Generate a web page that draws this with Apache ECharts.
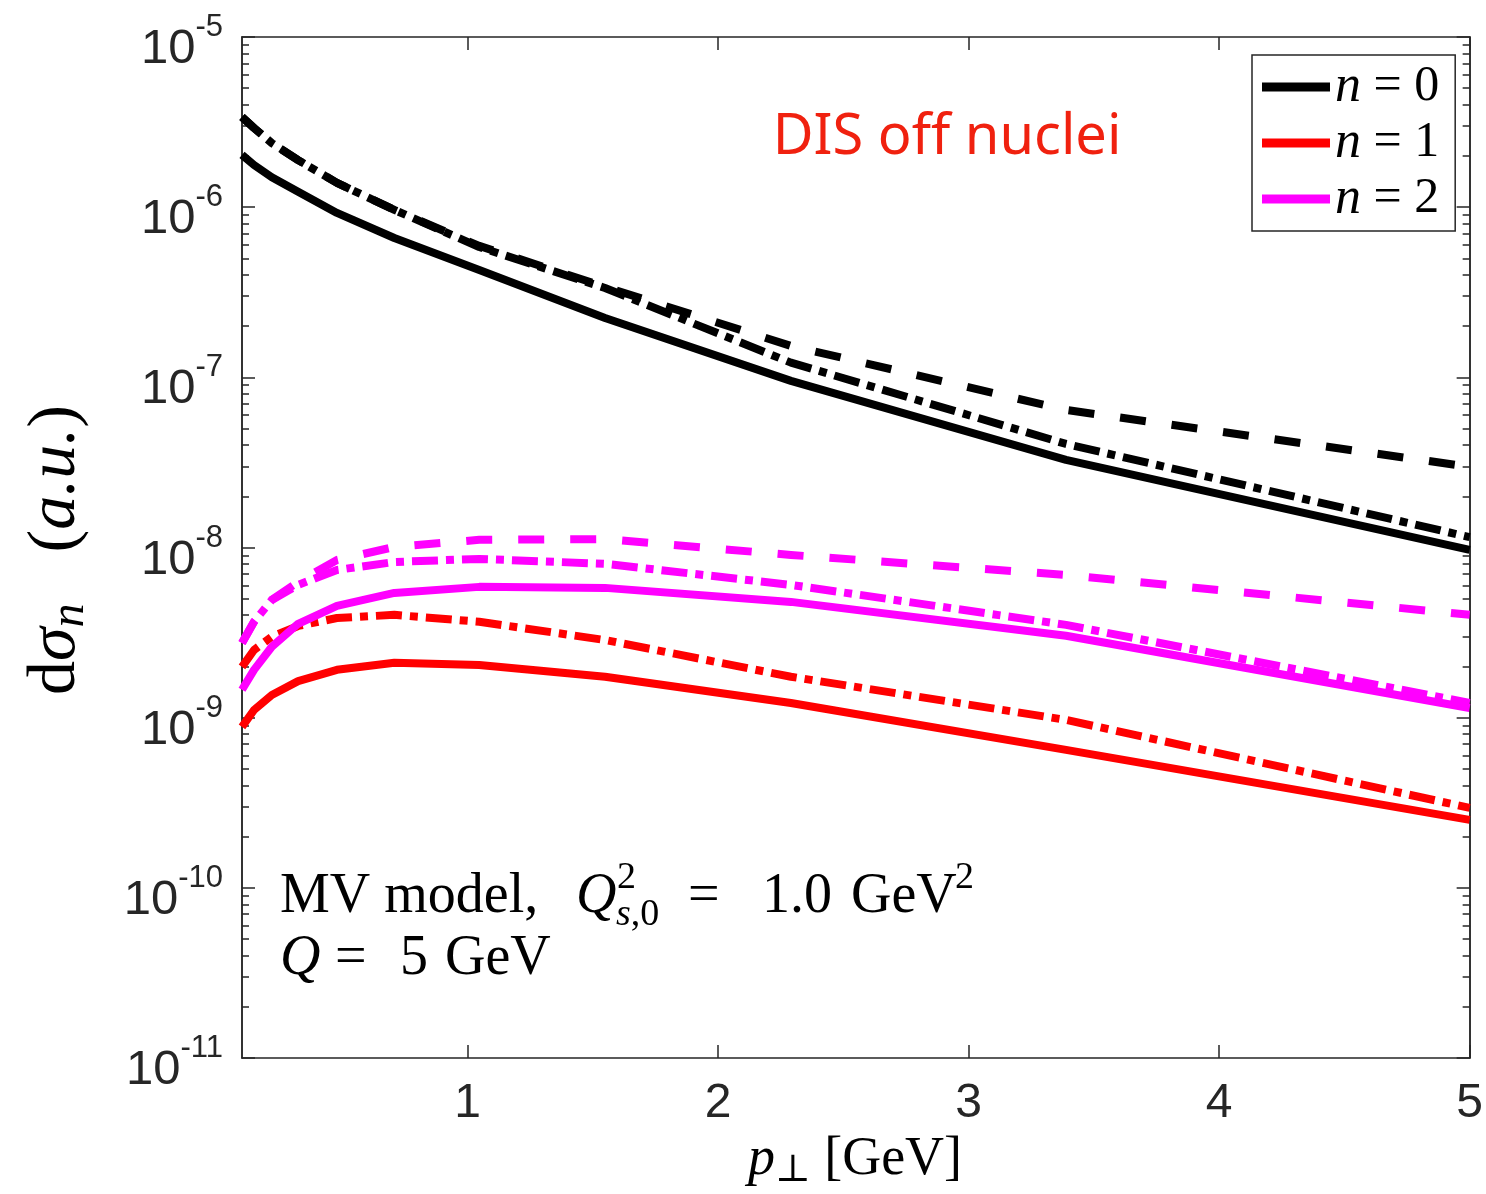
<!DOCTYPE html>
<html>
<head>
<meta charset="utf-8">
<script src="https://cdn.jsdelivr.net/npm/echarts@6/dist/echarts.min.js"></script>
<style>
  html, body { margin: 0; padding: 0; background: #fff; }
  #chart { width: 1486px; height: 1194px; }
</style>
</head>
<body>
<div id="chart"></div>
<script>
// transverse momentum knots [GeV]
const pT = [0.1, 0.148, 0.219, 0.324, 0.479, 0.708, 1.047, 1.549, 2.291, 3.389, 5.0];

// n = 0 (black)
const n0Solid   = [2.03e-6, 1.77e-6, 1.50e-6, 1.23e-6, 9.25e-7, 6.59e-7, 4.28e-7, 2.23e-7, 9.53e-8, 3.27e-8, 9.68e-9];
const n0DashDot = [3.39e-6, 2.92e-6, 2.38e-6, 1.89e-6, 1.39e-6, 9.64e-7, 5.83e-7, 3.35e-7, 1.22e-7, 4.06e-8, 1.15e-8];
const n0Dashed  = [3.39e-6, 2.92e-6, 2.38e-6, 1.89e-6, 1.39e-6, 9.64e-7, 5.92e-7, 3.40e-7, 1.53e-7, 6.43e-8, 2.98e-8];

// n = 1 (red)
const n1Solid   = [8.83e-10, 1.11e-9, 1.36e-9, 1.64e-9, 1.91e-9, 2.10e-9, 2.04e-9, 1.74e-9, 1.22e-9, 6.47e-10, 2.51e-10];
const n1DashDot = [1.99e-9, 2.50e-9, 2.99e-9, 3.46e-9, 3.85e-9, 4.02e-9, 3.66e-9, 2.86e-9, 1.74e-9, 9.70e-10, 2.95e-10];

// n = 2 (magenta)
const n2Solid   = [1.46e-9, 1.91e-9, 2.61e-9, 3.56e-9, 4.54e-9, 5.41e-9, 5.87e-9, 5.79e-9, 4.79e-9, 3.03e-9, 1.14e-9];
const n2DashDot = [2.75e-9, 3.66e-9, 4.92e-9, 6.03e-9, 7.38e-9, 8.22e-9, 8.57e-9, 8.02e-9, 6.03e-9, 3.51e-9, 1.22e-9];
const n2Dashed  = [2.75e-9, 3.66e-9, 4.92e-9, 6.28e-9, 8.45e-9, 1.007e-8, 1.11e-8, 1.12e-8, 9.04e-9, 6.90e-9, 4.02e-9];

// ticks
const xTicks  = [1, 2, 3, 4, 5];
const yMajor  = [1e-11, 1e-10, 1e-9, 1e-8, 1e-7, 1e-6, 1e-5];
const yMinor  = [];
yMajor.slice(0, -1).forEach(d => { for (let k = 2; k <= 9; k++) yMinor.push(d * k); });

const legendNames = ['n = 0', 'n = 1', 'n = 2'];

const AX = '#262626';
const SANS = '"Liberation Sans", Arial, sans-serif';
const SERIF = '"Liberation Serif", "DejaVu Serif", serif';
const DASH = [26, 26];
const DASHDOT = [26, 8, 8, 8];

function mkSeries(name, arr, color, type) {
  return {
    name: name, type: 'line', data: pT.map((x, i) => [x, arr[i]]),
    showSymbol: false, symbol: 'none', z: 3,
    itemStyle: { color: color },
    lineStyle: { color: color, width: 8, type: type, cap: 'butt', join: 'round' },
    emphasis: { disabled: true }
  };
}

function xAxisCfg(pos, labels) {
  return {
    type: 'value', min: 0.1, max: 5, position: pos,
    axisLine: { show: true, onZero: false, lineStyle: { color: AX, width: 1.5 } },
    axisTick: { show: true, inside: true, length: 13, customValues: xTicks, lineStyle: { color: AX, width: 1.5 } },
    axisLabel: { show: labels, customValues: xTicks, margin: 22, color: AX, fontSize: 48, fontFamily: SANS },
    splitLine: { show: false }
  };
}

function yAxisCfg(pos, ticks, len, labels) {
  return {
    type: 'log', logBase: 10, min: 1e-11, max: 1e-5, position: pos,
    axisLine: { show: true, onZero: false, lineStyle: { color: AX, width: 1.5 } },
    axisTick: { show: true, inside: true, length: len, customValues: ticks, lineStyle: { color: AX, width: 1.5 } },
    axisLabel: {
      show: labels, customValues: yMajor, margin: 19, color: AX,
      padding: [12, 0, 0, 0],
      formatter: v => '{b|10}{s|' + Math.round(Math.log10(v)) + '}',
      rich: {
        b: { fontSize: 49, fontFamily: SANS, color: AX, lineHeight: 62, verticalAlign: 'bottom' },
        s: { fontSize: 31, fontFamily: SANS, color: AX, lineHeight: 32, verticalAlign: 'top' }
      }
    },
    splitLine: { show: false }, minorTick: { show: false }
  };
}

const chart = echarts.init(document.getElementById('chart'), null, { renderer: 'canvas' });

chart.setOption({
  animation: false,
  backgroundColor: '#fff',
  grid: { left: 242, top: 37, width: 1233, height: 1021, containLabel: false },
  xAxis: [xAxisCfg('bottom', true), xAxisCfg('top', false)],
  yAxis: [
    yAxisCfg('left', yMajor, 13, true),
    yAxisCfg('left', yMinor, 7, false),
    yAxisCfg('right', yMajor, 13, false),
    yAxisCfg('right', yMinor, 7, false)
  ],
  legend: {
    data: legendNames, orient: 'vertical', left: 1252, top: 55,
    icon: 'rect', itemWidth: 68, itemHeight: 9, itemGap: 4,
    padding: [6, 16, 6, 10],
    borderColor: AX, borderWidth: 1.5, borderRadius: 0, backgroundColor: '#fff',
    selectedMode: false,
    formatter: name => '{i|n}{r| = ' + name.slice(-1) + '}',
    textStyle: {
      color: '#000', fontSize: 50, fontFamily: SERIF, lineHeight: 50,
      rich: {
        i: { fontSize: 52, fontFamily: SERIF, fontStyle: 'italic', color: '#000', lineHeight: 50 },
        r: { fontSize: 50, fontFamily: SERIF, color: '#000', lineHeight: 50 }
      }
    }
  },
  series: [
    mkSeries('n = 0', n0Solid, '#000000', 'solid'),
    mkSeries('n0 dashdot', n0DashDot, '#000000', DASHDOT),
    mkSeries('n0 dashed', n0Dashed, '#000000', DASH),
    mkSeries('n = 1', n1Solid, '#ff0000', 'solid'),
    mkSeries('n1 dashdot', n1DashDot, '#ff0000', DASHDOT),
    mkSeries('n = 2', n2Solid, '#ff00ff', 'solid'),
    mkSeries('n2 dashdot', n2DashDot, '#ff00ff', DASHDOT),
    mkSeries('n2 dashed', n2Dashed, '#ff00ff', DASH)
  ],
  graphic: [
    // y axis name
    { type: 'text', x: 56, y: 550, rotation: Math.PI / 2,
      style: { text: '{r|d}{i|σ}{sub|n}{r|   (}{i|a.u.}{r|)}', align: 'center', verticalAlign: 'middle',
        rich: {
          r: { fontSize: 68, fontFamily: SERIF, fill: '#000', lineHeight: 76 },
          i: { fontSize: 68, fontFamily: SERIF, fontStyle: 'italic', fill: '#000', lineHeight: 76 },
          sub: { fontSize: 48, fontFamily: SERIF, fontStyle: 'italic', fill: '#000', lineHeight: 36, verticalAlign: 'bottom' }
        } } },
    // x axis name
    { type: 'text', x: 855, y: 1160,
      style: { text: '{i|p}{sub|⊥}{r| [GeV]}', align: 'center', verticalAlign: 'middle',
        rich: {
          r: { fontSize: 54, fontFamily: SERIF, fill: '#000', lineHeight: 60 },
          i: { fontSize: 54, fontFamily: SERIF, fontStyle: 'italic', fill: '#000', lineHeight: 60 },
          sub: { fontSize: 38, fontFamily: SERIF, fill: '#000', lineHeight: 30, verticalAlign: 'bottom' }
        } } },
    // title-like label
    { type: 'text', x: 947, y: 138,
      style: { text: 'DIS off nuclei', font: '56px "Noto Sans", sans-serif', fill: '#f0210f',
        align: 'center', verticalAlign: 'middle' } },
    // model annotation, line 1
    { type: 'text', x: 280, y: 897, style: { text: 'MV model,', font: '56px ' + SERIF, fill: '#000', verticalAlign: 'middle' } },
    { type: 'text', x: 576, y: 897, style: { text: 'Q', font: 'italic 56px ' + SERIF, fill: '#000', verticalAlign: 'middle' } },
    { type: 'text', x: 617, y: 878, style: { text: '2', font: '38px ' + SERIF, fill: '#000', verticalAlign: 'middle' } },
    { type: 'text', x: 616, y: 915, style: { text: '{i|s}{r|,0}', verticalAlign: 'middle',
      rich: { i: { fontSize: 38, fontFamily: SERIF, fontStyle: 'italic', fill: '#000' }, r: { fontSize: 38, fontFamily: SERIF, fill: '#000' } } } },
    { type: 'text', x: 688, y: 897, style: { text: '=', font: '56px ' + SERIF, fill: '#000', verticalAlign: 'middle' } },
    { type: 'text', x: 762, y: 897, style: { text: '1.0', font: '56px ' + SERIF, fill: '#000', verticalAlign: 'middle' } },
    { type: 'text', x: 851, y: 897, style: { text: 'GeV', font: '56px ' + SERIF, fill: '#000', verticalAlign: 'middle' } },
    { type: 'text', x: 955, y: 878, style: { text: '2', font: '38px ' + SERIF, fill: '#000', verticalAlign: 'middle' } },
    // line 2
    { type: 'text', x: 280, y: 959, style: { text: 'Q', font: 'italic 56px ' + SERIF, fill: '#000', verticalAlign: 'middle' } },
    { type: 'text', x: 335, y: 959, style: { text: '=', font: '56px ' + SERIF, fill: '#000', verticalAlign: 'middle' } },
    { type: 'text', x: 400, y: 959, style: { text: '5', font: '56px ' + SERIF, fill: '#000', verticalAlign: 'middle' } },
    { type: 'text', x: 445, y: 959, style: { text: 'GeV', font: '56px ' + SERIF, fill: '#000', verticalAlign: 'middle' } }
  ]
});
</script>
</body>
</html>
